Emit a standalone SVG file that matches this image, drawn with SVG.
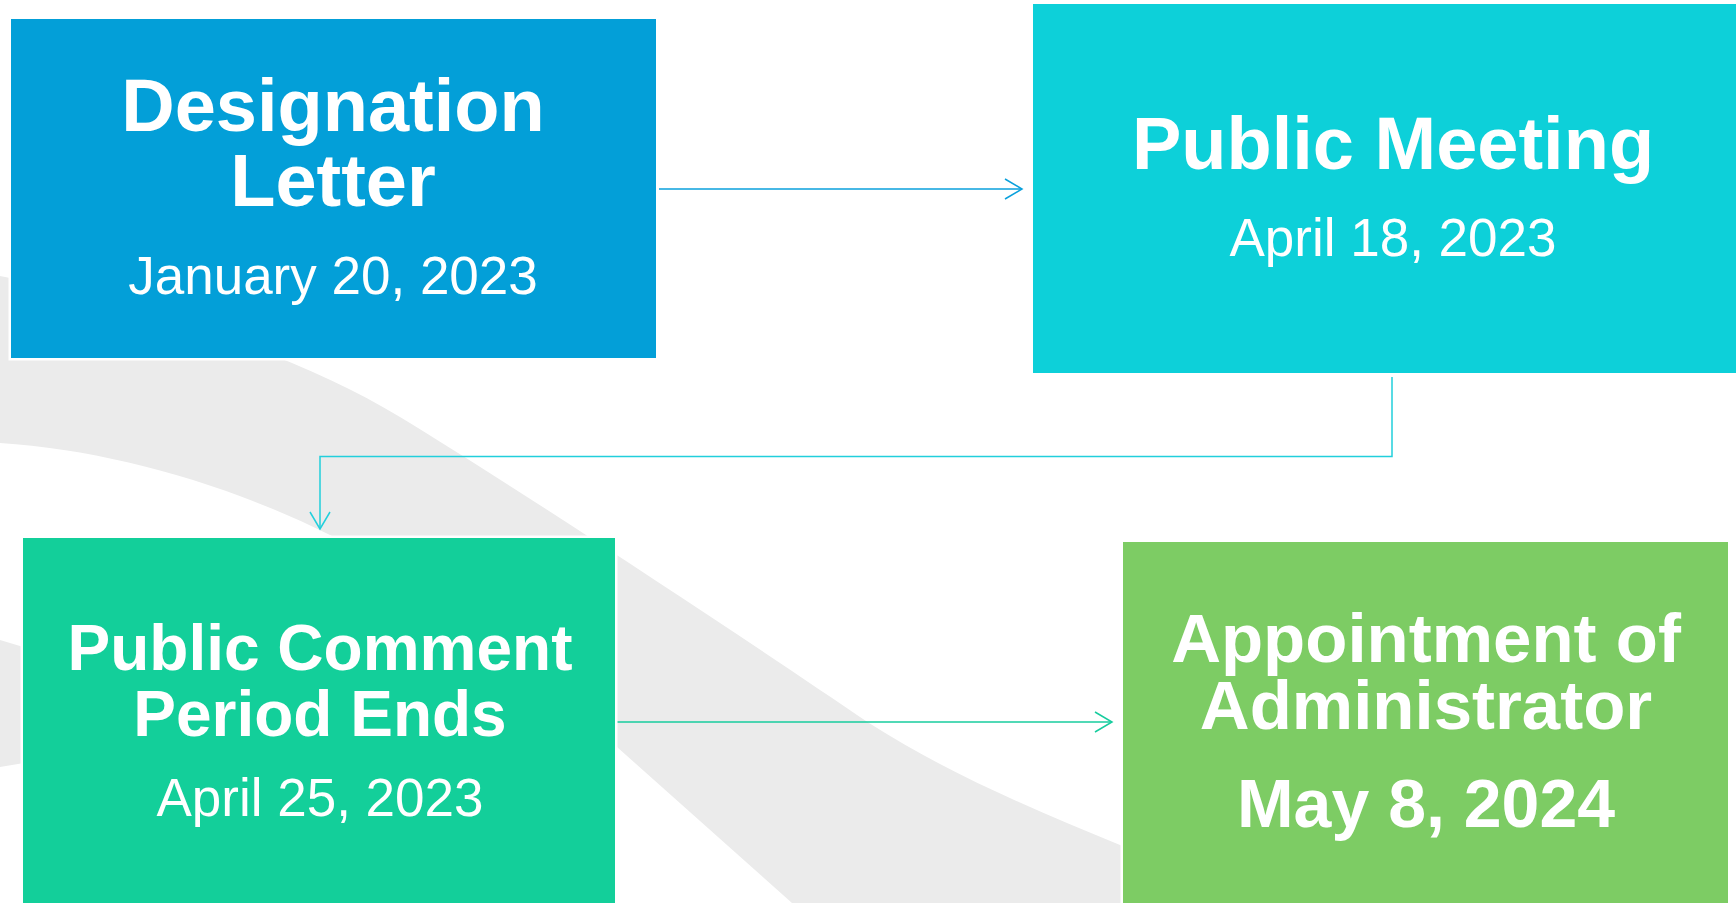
<svg xmlns="http://www.w3.org/2000/svg" width="1736" height="903" viewBox="0 0 1736 903">
  <style>
    .bg { fill: #ebebeb; }
    .box { stroke: #ffffff; stroke-width: 5; paint-order: stroke; }
    .title { font-family: "Liberation Sans", Arial, sans-serif; font-weight: bold; fill: #ffffff; text-anchor: middle; }
    .date { font-family: "Liberation Sans", Arial, sans-serif; fill: #ffffff; text-anchor: middle; }
    .conn { fill: none; stroke-width: 1.5; }
  </style>
  <defs>
    <marker id="arrowBlue" markerUnits="userSpaceOnUse" markerWidth="24" markerHeight="24" viewBox="-20 -12 24 24" refX="0" refY="0" orient="auto">
      <path d="M-17,-10 L0,0 L-17,10" fill="none" stroke="#0aa0dc" stroke-width="1.5"/>
    </marker>
    <marker id="arrowCyan" markerUnits="userSpaceOnUse" markerWidth="24" markerHeight="24" viewBox="-20 -12 24 24" refX="0" refY="0" orient="auto">
      <path d="M-17,-10 L0,0 L-17,10" fill="none" stroke="#22cfdc" stroke-width="1.5"/>
    </marker>
    <marker id="arrowGreen" markerUnits="userSpaceOnUse" markerWidth="24" markerHeight="24" viewBox="-20 -12 24 24" refX="0" refY="0" orient="auto">
      <path d="M-17,-10 L0,0 L-17,10" fill="none" stroke="#17cc9e" stroke-width="1.5"/>
    </marker>
  </defs>

  <rect x="0" y="0" width="1736" height="903" fill="#ffffff"/>

  <!-- background swooshes -->
  <g id="background">
    <path class="bg" d="M0,276 C130,302 290,350 400,417 C520,490 740,635 869,723 C950,775 1040,812 1120,845 L1320,903 L792,903 L617,747 C540,675 430,585 330,535 C230,485 110,450 0,443 Z"/>
    <path class="bg" d="M0,640 L30,649 L30,762 L0,767 Z"/>
  </g>

  <!-- connectors -->
  <g id="connectors">
    <path class="conn" stroke="#0aa0dc" d="M659,189 H1022" marker-end="url(#arrowBlue)"/>
    <path class="conn" stroke="#22cfdc" d="M1392,377 V456.5 H320 V529" marker-end="url(#arrowCyan)"/>
    <path class="conn" stroke="#17cc9e" d="M617,722 H1112" marker-end="url(#arrowGreen)"/>
  </g>

  <g id="designation-letter">
    <rect class="box" x="11" y="19" width="645" height="339" fill="#039fd8"/>
    <text class="title" x="333" y="131" font-size="74">Designation</text>
    <text class="title" x="333" y="206" font-size="74">Letter</text>
    <text class="date" x="333" y="294" font-size="53">January 20, 2023</text>
  </g>

  <g id="public-meeting">
    <rect class="box" x="1033" y="4" width="730" height="369" fill="#0dd0d9"/>
    <text class="title" x="1393" y="169" font-size="74">Public Meeting</text>
    <text class="date" x="1393" y="256" font-size="53">April 18, 2023</text>
  </g>

  <g id="public-comment">
    <rect class="box" x="23" y="538" width="592" height="380" fill="#13cf9a"/>
    <text class="title" x="320" y="670" font-size="64">Public Comment</text>
    <text class="title" x="320" y="736" font-size="64">Period Ends</text>
    <text class="date" x="320" y="816" font-size="53">April 25, 2023</text>
  </g>

  <g id="appointment">
    <rect class="box" x="1123" y="542" width="605" height="376" fill="#7dcc64"/>
    <text class="title" x="1426" y="662" font-size="69">Appointment of</text>
    <text class="title" x="1426" y="729" font-size="69">Administrator</text>
    <text class="title" x="1426" y="827" font-size="68">May 8, 2024</text>
  </g>
</svg>
